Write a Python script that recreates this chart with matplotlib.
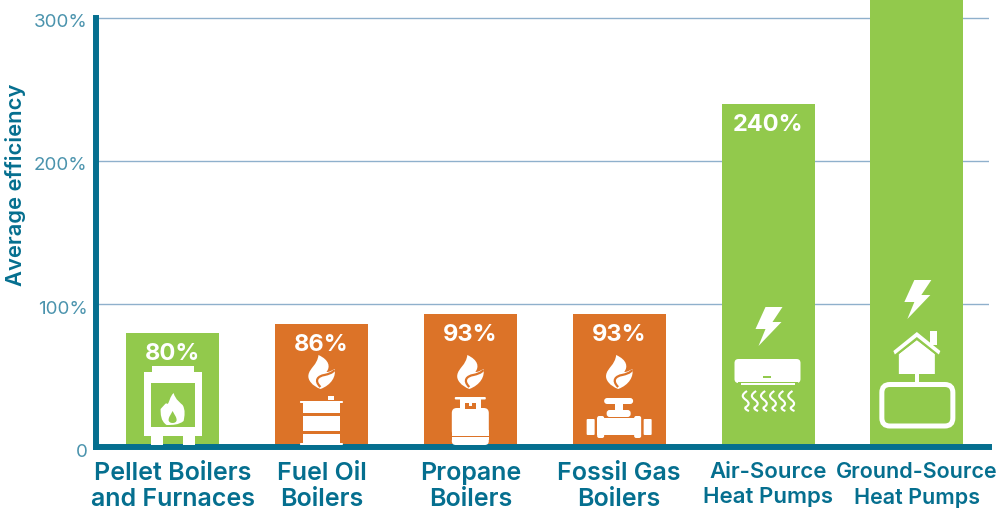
import matplotlib
matplotlib.use("Agg")
import matplotlib.pyplot as plt
from matplotlib.path import Path
from matplotlib.patches import PathPatch, Polygon, Rectangle, FancyBboxPatch
from matplotlib.transforms import ScaledTranslation

categories = [
    "Pellet Boilers\nand Furnaces",
    "Fuel Oil\nBoilers",
    "Propane\nBoilers",
    "Fossil Gas\nBoilers",
    "Air-Source\nHeat Pumps",
    "Ground-Source\nHeat Pumps",
]
efficiency = [80, 86, 93, 93, 240, 330]
shown_labels = ["80%", "86%", "93%", "93%", "240%", "330%"]
renewable = [True, False, False, False, True, True]
y_ticks = [0, 100, 200, 300]
y_tick_labels = ["0", "100%", "200%", "300%"]

GREEN = "#92c94c"
ORANGE = "#dc7328"
TEAL = "#056f8f"
TICK = "#4a93ad"
GRID = "#8fb0cc"
WHITE = "#ffffff"
FONT = "Inter"
X0 = 172.6
PITCH = 148.85

fig = plt.figure(figsize=(9.97, 5.11), dpi=100)
ax = fig.add_axes([96 / 997, (511 - 447) / 511, (989 - 96) / 997, 447 / 511])
# overlay in pixel units, only for the icons
px = fig.add_axes([0, 0, 1, 1], facecolor="none")
px.set_xlim(0, 997)
px.set_ylim(511, 0)
px.axis("off")

x = list(range(len(categories)))
colors = [GREEN if r else ORANGE for r in renewable]
ax.bar(x, efficiency, width=93 / PITCH, color=colors, zorder=3)
ax.set_xlim((96 - X0) / PITCH, (989 - X0) / PITCH)
ax.set_ylim(0, 447 / 143 * 100)

ax.set_yticks(y_ticks)
ax.set_yticklabels(y_tick_labels, fontsize=13.5, color=TICK, fontfamily=FONT, fontweight="normal")
ax.grid(axis="y", color=GRID, linewidth=1, zorder=1)
ax.set_axisbelow(True)
ax.tick_params(axis="y", length=0, pad=6)
for label in ax.get_yticklabels():
    label.set_transform(label.get_transform() + ScaledTranslation(0, -3 / 100, fig.dpi_scale_trans))

ax.set_xticks(x)
ax.set_xticklabels(categories, color=TEAL, fontfamily=FONT, fontweight="semibold")
ax.tick_params(axis="x", length=0, pad=10.5)
# the last two labels are set smaller than the others
label_sizes = [18, 18, 18, 18, 16, 15.5]
label_spacing = [1.19, 1.19, 1.19, 1.19, 1.33, 1.37]
for label, size, spacing in zip(ax.get_xticklabels(), label_sizes, label_spacing):
    label.set_fontsize(size)
    label.set_linespacing(spacing)

ax.spines["top"].set_visible(False)
ax.spines["right"].set_visible(False)
ax.spines["left"].set_linewidth(4.3)
ax.spines["left"].set_color(TEAL)
ax.spines["left"].set_bounds(0, 300)
ax.spines["bottom"].set_linewidth(4.3)
ax.spines["bottom"].set_color(TEAL)
ax.spines["bottom"].set_zorder(4)

px.text(16, 185, "Average efficiency", rotation=90, ha="center", va="center",
        fontsize=15.8, color=TEAL, fontfamily=FONT, fontweight="semibold")

for xi, v, s in zip(x, efficiency, shown_labels):
    ax.annotate(s, (xi, v), xytext=(0, -21 * 0.72), textcoords="offset points", ha="center", va="center",
                fontsize=17, color=WHITE, fontfamily=FONT, fontweight="bold", zorder=5,
                annotation_clip=True)


def rect(x0, y0, x1, y1, color=WHITE, z=6):
    px.add_patch(Rectangle((x0, y0), x1 - x0, y1 - y0, facecolor=color, edgecolor="none", zorder=z))


def rrect(x0, y0, x1, y1, r=2, color=WHITE, z=6, fill=True, lw=0):
    px.add_patch(FancyBboxPatch((x0 + r, y0 + r), x1 - x0 - 2 * r, y1 - y0 - 2 * r,
                                boxstyle=f"round,pad={r},rounding_size={r}",
                                facecolor=color if fill else "none",
                                edgecolor=WHITE if lw else "none", linewidth=lw, zorder=z))


def flame(cx, cy, bg):
    verts = [(-3, -17), (8, -12), (9, -5), (5, 0), (9, 0), (11, -2), (13, -3),
             (15, 4), (10, 13), (-1, 17), (-9, 14), (-14, 8), (-13, 3),
             (-12, -4), (-4, -7), (-3, -17)]
    codes = [Path.MOVETO] + [Path.CURVE4] * 15
    px.add_patch(PathPatch(Path([(cx + a, cy + b) for a, b in verts], codes),
                           facecolor=WHITE, edgecolor="none", zorder=6))
    swirl = [(-1, 15), (-8, 8), (-3, 4), (3, 3), (7, 2), (11, 1), (13, -2)]
    swirl_codes = [Path.MOVETO] + [Path.CURVE4] * 6
    px.add_patch(PathPatch(Path([(cx + a, cy + b) for a, b in swirl], swirl_codes),
                           facecolor="none", edgecolor=bg, linewidth=1.6, zorder=7))


def bolt(cx, top):
    pts = [(-3, 0), (14, 0), (4, 15), (13, 15), (-10, 39), (-3, 22), (-13, 22)]
    px.add_patch(Polygon([(cx + a, top + b) for a, b in pts], closed=True,
                         facecolor=WHITE, edgecolor="none", zorder=6))


def pellet_icon(cx):
    rect(cx - 20.5, 366, cx + 21.5, 373)
    rect(cx - 28.5, 372, cx + 29.5, 436)
    rect(cx - 21.5, 383, cx + 22.5, 427, color=GREEN, z=7)
    rect(cx - 21.5, 436, cx - 9.5, 445)
    rect(cx + 10.5, 436, cx + 22.5, 445)
    verts = [(1, 393), (3, 400), (8, 403), (10, 405), (13, 410), (12, 416), (11, 421), (6, 425), (0, 425),
             (-6, 425), (-12, 421), (-12, 414), (-12, 409), (-8, 405), (-7, 402), (-5, 404), (-3, 402),
             (-3, 397), (1, 393)]
    codes = [Path.MOVETO] + [Path.CURVE4] * 18
    px.add_patch(PathPatch(Path([(cx + a, b) for a, b in verts], codes), facecolor=WHITE, edgecolor="none", zorder=8))
    drop = [(0, 411), (2, 415), (4, 417), (4, 420), (4, 424), (-4, 424), (-4, 420), (-4, 417), (-2, 415), (0, 411)]
    codes = [Path.MOVETO] + [Path.CURVE4] * 9
    px.add_patch(PathPatch(Path([(cx + a, b) for a, b in drop], codes), facecolor=GREEN, edgecolor="none", zorder=9))


def oil_icon(cx):
    flame(cx, 372, ORANGE)
    rect(cx + 6.5, 396, cx + 12.5, 400)
    rrect(cx - 21.5, 401, cx + 21.5, 403, r=0.8)
    rect(cx - 18.5, 403, cx + 18.5, 413)
    rect(cx - 18.5, 416, cx + 18.5, 431)
    rect(cx - 18.5, 434, cx + 18.5, 443)
    rrect(cx - 21.5, 443, cx + 21.5, 445, r=0.8)


def propane_icon(cx):
    flame(cx, 372, ORANGE)
    rrect(cx - 15.5, 397, cx + 15.5, 399.5, r=1)
    rect(cx - 10.5, 399, cx + 10.5, 409)
    rect(cx - 5.5, 403, cx + 5.5, 409, color=ORANGE, z=7)
    rect(cx - 1.5, 403, cx + 1.5, 406, color=WHITE, z=8)
    rrect(cx - 18.5, 408, cx + 18.5, 436, r=5)
    rect(cx - 18.5, 430, cx + 18.5, 436)
    rrect(cx - 18.5, 437, cx + 18.5, 445, r=4)
    rect(cx - 18.5, 437, cx + 18.5, 440)


def valve_icon(cx):
    flame(cx, 372, ORANGE)
    rrect(cx - 15, 398, cx + 14, 404, r=3)
    rect(cx - 4.5, 404, cx + 3.5, 411)
    rrect(cx - 12.5, 410, cx + 11.5, 417, r=3)
    rect(cx - 22, 418, cx + 22, 435)
    rrect(cx - 22, 416, cx - 15, 438, r=2)
    rrect(cx + 15, 416, cx + 22, 438, r=2)
    rrect(cx - 32.5, 419, cx - 24.5, 435, r=1)
    rrect(cx + 24.5, 419, cx + 32.5, 435, r=1)


def air_icon(cx):
    bolt(cx + 0.5, 307)
    rrect(cx - 33.5, 359, cx + 32.5, 383, r=4)
    rect(cx - 5, 376.5, cx + 3, 378, color=GREEN, z=7)
    rect(cx - 30, 382, cx + 30, 383, color=GREEN, z=7)
    rect(cx - 27, 383, cx + 27, 385)
    # six wavy vents under the unit
    for i in range(6):
        wx = cx - 22 + i * 9.1
        verts = [(wx + 1, 391), (wx - 5, 395), (wx - 4, 397), (wx, 400), (wx + 4, 403), (wx + 3, 405), (wx, 407),
                 (wx - 2, 408), (wx, 410), (wx + 3, 411)]
        codes = [Path.MOVETO] + [Path.CURVE4] * 9
        px.add_patch(PathPatch(Path(verts, codes), facecolor="none", edgecolor=WHITE, linewidth=1.5, zorder=6))


def ground_icon(cx):
    bolt(cx + 0.5, 280)
    rect(cx + 13, 331, cx + 20, 345)
    px.add_patch(Polygon([(cx, 332), (cx + 23.5, 351), (cx + 22, 354.5), (cx, 337), (cx - 22, 354.5), (cx - 23.5, 351)],
                         closed=True, facecolor=WHITE, edgecolor="none", zorder=7))
    px.add_patch(Polygon([(cx, 340), (cx + 18, 354), (cx + 18, 374), (cx - 18, 374), (cx - 18, 354)],
                         closed=True, facecolor=WHITE, edgecolor="none", zorder=6))
    px.add_patch(Polygon([(cx, 337), (cx + 22, 354.5), (cx + 18, 354), (cx, 340), (cx - 18, 354), (cx - 22, 354.5)],
                         closed=True, facecolor=GREEN, edgecolor="none", zorder=6.5))
    rect(cx - 2, 374, cx + 2, 384)
    rrect(cx - 35, 384.5, cx + 36, 426, r=8, fill=False, lw=3.6)


# icon x centres come from the bar positions
icon_funcs = [pellet_icon, oil_icon, propane_icon, valve_icon, air_icon, ground_icon]
for xi, func in zip(x, icon_funcs):
    func(X0 + PITCH * xi)

fig.savefig("out.png", dpi=100)
